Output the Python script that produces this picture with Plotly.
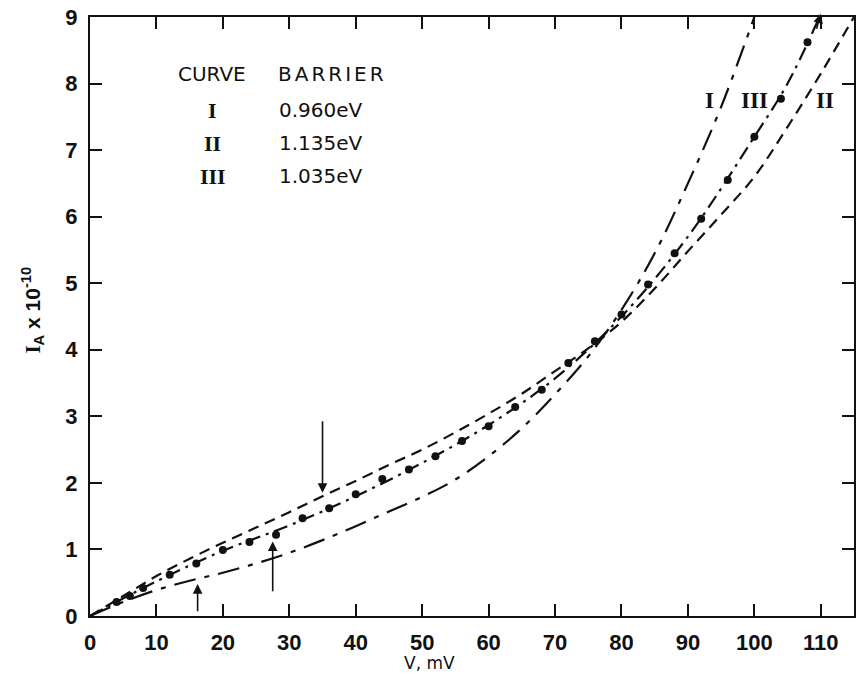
import plotly.graph_objects as go

# Curve I (barrier 0.960 eV) - long-dash / short-dash
v_curve1 = [0, 5, 10, 15, 20, 25, 30, 35, 40, 45, 50, 55, 60, 65, 70, 75, 80, 85, 90, 95, 100]
i_curve1 = [0, 0.21, 0.39, 0.53, 0.65, 0.79, 0.95, 1.14, 1.35, 1.57, 1.79, 2.05, 2.4, 2.82, 3.33, 3.9, 4.6, 5.45, 6.5, 7.65, 9.0]

# Curve II (barrier 1.135 eV) - dashed
v_curve2 = [0, 5, 10, 15, 20, 25, 30, 35, 40, 45, 50, 55, 60, 65, 70, 75, 80, 85, 90, 95, 100, 105, 110, 115]
i_curve2 = [0, 0.3, 0.6, 0.86, 1.1, 1.33, 1.56, 1.8, 2.03, 2.27, 2.5, 2.76, 3.04, 3.34, 3.68, 4.02, 4.42, 4.92, 5.48, 6.03, 6.6, 7.35, 8.15, 9.0]

# Curve III (barrier 1.035 eV) - dash-dot line
v_curve3 = [0, 10, 20, 30, 40, 50, 60, 70, 80, 90, 100, 105, 109.8]
i_curve3 = [0, 0.52, 0.98, 1.36, 1.8, 2.3, 2.87, 3.57, 4.5, 5.7, 7.2, 8.0, 9.0]

# Measured points (on curve III)
v_meas = [4, 6, 8, 12, 16, 20, 24, 28, 32, 36, 40, 44, 48, 52, 56, 60, 64, 68, 72, 76, 80, 84, 88, 92, 96, 100, 104, 108]
i_meas = [0.21, 0.3, 0.42, 0.62, 0.79, 0.99, 1.11, 1.22, 1.47, 1.62, 1.83, 2.06, 2.2, 2.4, 2.63, 2.85, 3.14, 3.4, 3.8, 4.13, 4.53, 4.98, 5.45, 5.97, 6.55, 7.2, 7.77, 8.62]

x_ticks = [0, 10, 20, 30, 40, 50, 60, 70, 80, 90, 100, 110]
x_tick_labels = ["0", "10", "20", "30", "40", "50", "60", "70", "80", "90", "100", "110"]
y_ticks = [0, 1, 2, 3, 4, 5, 6, 7, 8, 9]
y_tick_labels = ["0", "1", "2", "3", "4", "5", "6", "7", "8", "9"]

curve_names = ["I", "II", "III"]
barriers = ["0.960eV", "1.135eV", "1.035eV"]

ink = "#111111"
fig = go.Figure()
fig.add_trace(go.Scatter(x=v_curve1, y=i_curve1, mode="lines", line=dict(color=ink, width=2.2, dash="22px,9px,5px,9px", shape="spline")))
fig.add_trace(go.Scatter(x=v_curve2, y=i_curve2, mode="lines", line=dict(color=ink, width=2.2, dash="11px,7px", shape="spline")))
fig.add_trace(go.Scatter(x=v_curve3, y=i_curve3, mode="lines", line=dict(color=ink, width=2.2, dash="14px,6px,3px,6px", shape="spline")))
fig.add_trace(go.Scatter(x=v_meas, y=i_meas, mode="markers", marker=dict(color=ink, size=8)))

ann = []
serif = "Liberation Serif"
sans = "DejaVu Sans"
bold_sans = "Liberation Sans"
# Legend table
ann.append(dict(x=18.3, y=8.15, text="CURVE", showarrow=False,
                font=dict(family=sans, size=20, color=ink)))
ann.append(dict(x=28.0, y=8.15, text='<span style="letter-spacing:3px">BARRIER</span>', showarrow=False, xanchor="left",
                font=dict(family=sans, size=20, color=ink)))
rows_y = [7.6, 7.1, 6.61]
for name, bar, yy in zip(curve_names, barriers, rows_y):
    ann.append(dict(x=18.45, y=yy, text=name, showarrow=False, font=dict(family=serif, size=22, color=ink, weight="bold")))
    ann.append(dict(x=28.2, y=yy, text=bar, showarrow=False, xanchor="left",
                    font=dict(family=sans, size=20, color=ink)))
# Curve labels
for name, xx in zip(["I", "III", "II"], [93.3, 100.0, 110.7]):
    ann.append(dict(x=xx, y=7.75, text=name, showarrow=False, font=dict(family=serif, size=23, color=ink, weight="bold")))
# Arrows
arrow_style = dict(showarrow=True, arrowhead=2, arrowsize=1.2, arrowwidth=1.6, arrowcolor=ink, axref="x", ayref="y", text="")
ann.append(dict(x=35, y=1.85, ax=35, ay=2.95, **arrow_style))
ann.append(dict(x=16.2, y=0.48, ax=16.2, ay=0.05, **arrow_style))
ann.append(dict(x=27.5, y=1.12, ax=27.5, ay=0.35, **arrow_style))
ann.append(dict(x=110.0, y=9.05, ax=109.3, ay=8.8, **arrow_style))
# Axis titles
ann.append(dict(xref="paper", yref="paper", x=-0.075, y=0.511, xanchor="center", yanchor="middle",
                text='<span style="font-family:Liberation Serif">I</span><sub>A</sub> x 10<sup>-10</sup>', textangle=-90,
                showarrow=False, font=dict(family=bold_sans, size=21, color=ink, weight="bold")))
ann.append(dict(xref="paper", yref="paper", x=0.444, y=-0.078, xanchor="center", yanchor="middle",
                text="V, mV", showarrow=False, font=dict(family=sans, size=17, color=ink)))

fig.update_layout(
    width=856, height=691,
    margin=dict(l=90, r=0, t=17, b=75),
    paper_bgcolor="white", plot_bgcolor="white",
    showlegend=False,
    annotations=ann,
    xaxis=dict(range=[0, 115], tickvals=x_ticks, ticktext=x_tick_labels, ticks="inside", ticklen=12, tickwidth=2,
               tickcolor=ink, showline=True, linecolor=ink, linewidth=2, mirror="ticks", showgrid=False,
               zeroline=False, ticklabelstandoff=6,
               tickfont=dict(family=bold_sans, size=22, color=ink, weight="bold")),
    yaxis=dict(range=[0, 9], tickvals=y_ticks, ticktext=y_tick_labels, ticks="inside", ticklen=12, tickwidth=2,
               tickcolor=ink, showline=True, linecolor=ink, linewidth=2, mirror="ticks", showgrid=False,
               zeroline=False, ticklabelstandoff=6,
               tickfont=dict(family=bold_sans, size=22, color=ink, weight="bold")),
)

fig.write_html("out.html")
